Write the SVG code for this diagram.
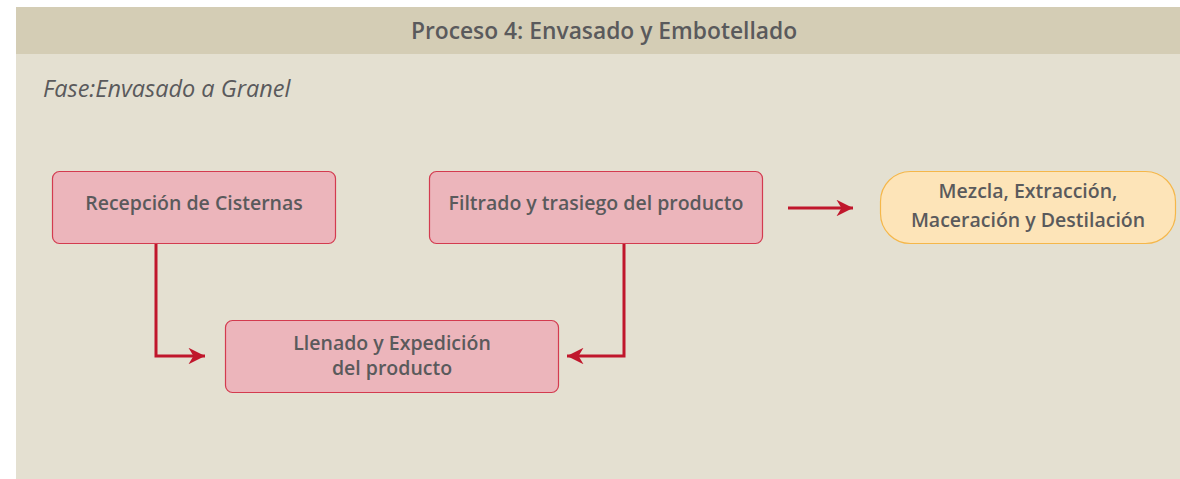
<svg xmlns="http://www.w3.org/2000/svg" width="1180" height="479" viewBox="0 0 1180 479">
<defs>
<style>
.t{font-family:"Open Sans","Noto Sans",sans-serif;font-weight:600;fill:#5a5a5c;text-anchor:middle}
.b{font-size:19.5px}
.node{fill:#ecb5bb;stroke:#d33b4f;stroke-width:1.2}
.conn{fill:none;stroke:#c0172c;stroke-width:3}
</style>
<marker id="ah" viewBox="0 0 10 10" refX="10" refY="5" markerWidth="7.5" markerHeight="5.5" markerUnits="strokeWidth" orient="auto">
<path d="M0,0 L10,5 L0,10 L3,5 Z" fill="#c0172c"/>
</marker>
</defs>
<rect width="1180" height="479" fill="#ffffff"/>
<rect x="16" y="7" width="1164" height="472" fill="#e4e0d1"/>
<rect x="16" y="7" width="1164" height="47" fill="#d4cdb5"/>
<text class="t" x="604" y="39" font-size="22.8">Proceso 4: Envasado y Embotellado</text>
<text x="43" y="97" font-family="Open Sans, Noto Sans, sans-serif" font-style="italic" font-size="23.5" fill="#5a5a5c">Fase:Envasado a Granel</text>
<g id="connectors">
<path class="conn" d="M156,243 V356 H205" marker-end="url(#ah)"/>
<path class="conn" d="M624,243 V356 H567" marker-end="url(#ah)"/>
<path class="conn" d="M788,208 H853" marker-end="url(#ah)"/>
</g>
<g id="n1">
<rect class="node" x="52.5" y="171.5" width="283" height="72" rx="7"/>
<text class="t b" x="194" y="210">Recepción de Cisternas</text>
</g>
<g id="n2">
<rect class="node" x="429.5" y="171.5" width="333" height="72" rx="7"/>
<text class="t b" x="596" y="210">Filtrado y trasiego del producto</text>
</g>
<g id="n3">
<rect x="880.5" y="171.5" width="295" height="72" rx="30" fill="#fde4b8" stroke="#f5b74a" stroke-width="1.2"/>
<text class="t b" x="1028" y="198">Mezcla, Extracción,</text>
<text class="t b" x="1028" y="227">Maceración y Destilación</text>
</g>
<g id="n4">
<rect class="node" x="225.5" y="320.5" width="333" height="72" rx="7"/>
<text class="t b" x="392" y="350">Llenado y Expedición</text>
<text class="t b" x="392" y="375">del producto</text>
</g>
</svg>
